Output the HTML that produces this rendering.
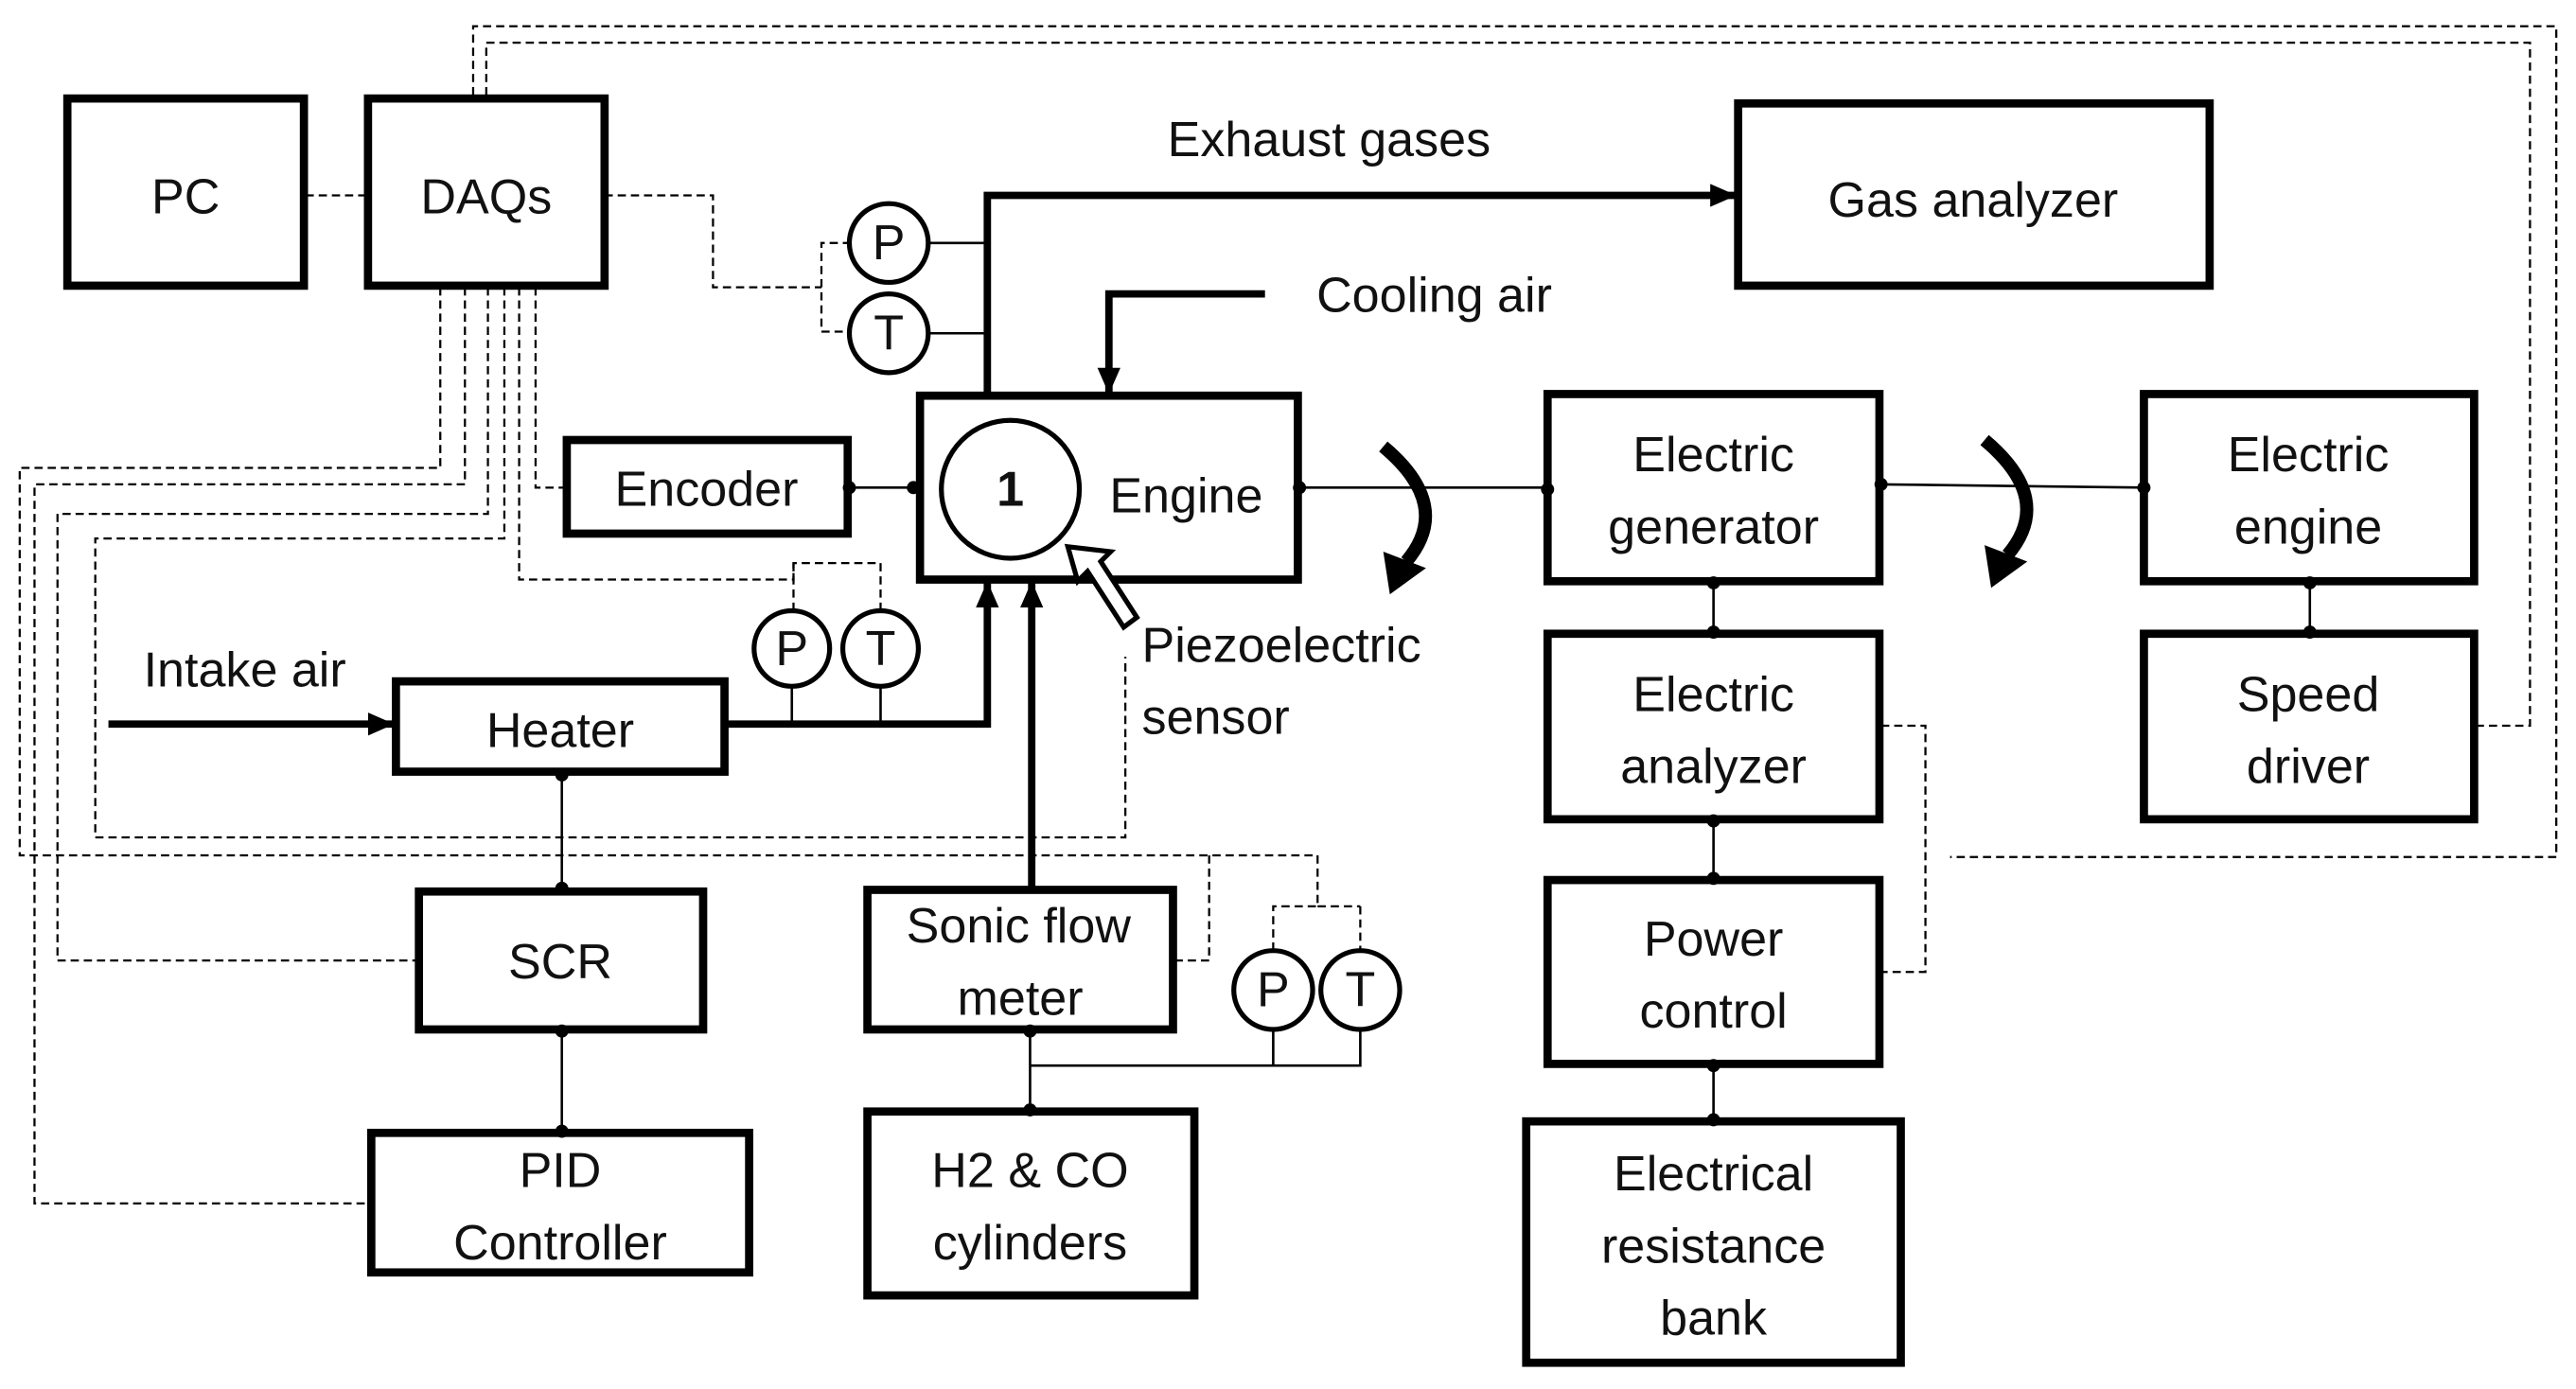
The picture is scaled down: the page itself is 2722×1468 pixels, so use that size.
<!DOCTYPE html>
<html><head><meta charset="utf-8"><style>
html,body{margin:0;padding:0;background:#fff;}
svg{display:block;}
text{font-family:"Liberation Sans",sans-serif;font-size:30px;fill:#111;text-anchor:middle;}
</style></head><body>
<svg width="2722" height="1468" viewBox="0 0 1568 846" preserveAspectRatio="none" xmlns="http://www.w3.org/2000/svg">
<defs>
<marker id="ah" markerWidth="16" markerHeight="14" refX="15" refY="7" orient="auto" markerUnits="userSpaceOnUse" viewBox="0 0 16 14"><path d="M0,0 L16,7 L0,14 z" fill="#000"/></marker>
</defs>
<g fill="none" stroke="#000" stroke-width="1.3" stroke-dasharray="5,3">
<polyline points="288,58 288,16 1556,16 1556,522 1187,522"/>
<polyline points="296,58 296,26 1540,26 1540,442 1508,442"/>
<line x1="186" y1="119" x2="222" y2="119"/>
<polyline points="368,119 434,119 434,175 500,175"/>
<polyline points="518,148 500,148 500,202 518,202"/>
<polyline points="268,175 268,285 12,285 12,521 802,521 802,552 775,552 775,580"/>
<line x1="802" y1="552" x2="828" y2="552"/><line x1="828" y1="552" x2="828" y2="580"/>
<polyline points="736,521 736,585 715,585"/>
<polyline points="283,175 283,295 21,295 21,733 232,733"/>
<polyline points="297,175 297,313 35,313 35,585 254,585"/>
<polyline points="307,175 307,328 58,328 58,510 685,510 685,400"/>
<polyline points="316,175 316,353 483,353 483,343 536,343 536,372"/>
<line x1="483" y1="343" x2="483" y2="372"/>
<polyline points="326,175 326,297 344,297"/>
<polyline points="1145,442 1172,442 1172,592 1145,592"/>
</g>
<g fill="#fff" stroke="#000" stroke-width="5">
<rect x="41" y="60" width="144" height="114"/>
<rect x="224" y="60" width="144" height="114"/>
<rect x="1058" y="63" width="287" height="111"/>
<rect x="560" y="241" width="230" height="112"/>
<rect x="345" y="268" width="171" height="57"/>
<rect x="241" y="415" width="200" height="55"/>
<rect x="528" y="542" width="186" height="85"/>
<rect x="255" y="543" width="173" height="84"/>
<rect x="226" y="690" width="230" height="85"/>
<rect x="528" y="677" width="199" height="112"/>
<rect x="942" y="240" width="202" height="114"/>
<rect x="1305" y="240" width="201" height="114"/>
<rect x="942" y="386" width="202" height="113"/>
<rect x="1305" y="386" width="201" height="113"/>
<rect x="942" y="536" width="202" height="112"/>
<rect x="929" y="683" width="228" height="147"/>
</g>
<g fill="none" stroke="#000" stroke-width="4.5">
<polyline points="601,240 601,119 1056,119" marker-end="url(#ah)"/>
<polyline points="770,179 675,179 675,239" marker-end="url(#ah)"/>
<line x1="66" y1="441" x2="239" y2="441" marker-end="url(#ah)"/>
<polyline points="441,441 601,441 601,355" marker-end="url(#ah)"/>
<line x1="628" y1="540" x2="628" y2="355" marker-end="url(#ah)"/>
</g>
<g fill="none" stroke="#000" stroke-width="1.5">
<line x1="565" y1="148" x2="601" y2="148"/><line x1="565" y1="203" x2="601" y2="203"/>
<line x1="517" y1="297" x2="558" y2="297"/>
<line x1="791" y1="297" x2="941" y2="297"/>
<line x1="1145" y1="295" x2="1305" y2="297"/>
<line x1="482" y1="418" x2="482" y2="441"/><line x1="536" y1="418" x2="536" y2="441"/>
<line x1="342" y1="471" x2="342" y2="541"/>
<line x1="342" y1="628" x2="342" y2="689"/>
<line x1="627" y1="628" x2="627" y2="676"/>
<polyline points="627,649 828,649 828,627"/><line x1="775" y1="627" x2="775" y2="649"/>
<line x1="1043" y1="355" x2="1043" y2="385"/>
<line x1="1043" y1="500" x2="1043" y2="535"/>
<line x1="1043" y1="649" x2="1043" y2="682"/>
<line x1="1406" y1="355" x2="1406" y2="385"/>
</g>
<g fill="#000">
<circle cx="517" cy="297" r="4"/><circle cx="556" cy="297" r="4"/>
<circle cx="791" cy="297" r="4"/><circle cx="942" cy="298" r="4"/>
<circle cx="1145" cy="295" r="4"/><circle cx="1305" cy="297" r="4"/>
<circle cx="342" cy="472" r="4"/><circle cx="342" cy="541" r="4"/>
<circle cx="342" cy="628" r="4"/><circle cx="342" cy="689" r="4"/>
<circle cx="627" cy="628" r="4"/><circle cx="627" cy="676" r="4"/>
<circle cx="1043" cy="355" r="4"/><circle cx="1043" cy="385" r="4"/>
<circle cx="1043" cy="500" r="4"/><circle cx="1043" cy="535" r="4"/>
<circle cx="1043" cy="649" r="4"/><circle cx="1043" cy="682" r="4"/>
<circle cx="1406" cy="355" r="4"/><circle cx="1406" cy="385" r="4"/>
</g>
<g fill="#fff" stroke="#000" stroke-width="3">
<circle cx="541" cy="148" r="24"/><circle cx="541" cy="203" r="24"/>
<circle cx="482" cy="395" r="23"/><circle cx="536" cy="395" r="23"/>
<circle cx="775" cy="603" r="24"/><circle cx="828" cy="603" r="24"/>
<circle cx="615" cy="298" r="42"/>
</g>
<path d="M650,333 L676,336 L670,342 L692,376 L684,382 L662,348 L656,354 Z" fill="#fff" stroke="#000" stroke-width="3"/>
<path d="M842,272 Q885,308 856,342" fill="none" stroke="#000" stroke-width="8"/>
<path d="M842,336 L868,346 L846,362 Z" fill="#000"/>
<path d="M1208,268 Q1251,304 1222,338" fill="none" stroke="#000" stroke-width="8"/>
<path d="M1208,332 L1234,342 L1212,358 Z" fill="#000"/>
<text x="113" y="130">PC</text>
<text x="296" y="130">DAQs</text>
<text x="809" y="95">Exhaust gases</text>
<text x="1201" y="132">Gas analyzer</text>
<text x="873" y="190">Cooling air</text>
<text x="541" y="158" font-size="27">P</text>
<text x="541" y="213" font-size="27">T</text>
<text x="430" y="308">Encoder</text>
<text x="615" y="308" font-weight="bold" font-size="27">1</text>
<text x="722" y="312">Engine</text>
<text x="482" y="405" font-size="27">P</text>
<text x="536" y="405" font-size="27">T</text>
<text x="149" y="418">Intake air</text>
<text x="341" y="455">Heater</text>
<text x="695" y="403" style="text-anchor:start">Piezoelectric</text>
<text x="695" y="447" style="text-anchor:start">sensor</text>
<text x="341" y="596">SCR</text>
<text x="620" y="574">Sonic flow</text>
<text x="621" y="618">meter</text>
<text x="775" y="613" font-size="27">P</text>
<text x="828" y="613" font-size="27">T</text>
<text x="341" y="723">PID</text>
<text x="341" y="767">Controller</text>
<text x="627" y="723">H2 &amp; CO</text>
<text x="627" y="767">cylinders</text>
<text x="1043" y="287">Electric</text>
<text x="1043" y="331">generator</text>
<text x="1405" y="287">Electric</text>
<text x="1405" y="331">engine</text>
<text x="1043" y="433">Electric</text>
<text x="1043" y="477">analyzer</text>
<text x="1405" y="433">Speed</text>
<text x="1405" y="477">driver</text>
<text x="1043" y="582">Power</text>
<text x="1043" y="626">control</text>
<text x="1043" y="725">Electrical</text>
<text x="1043" y="769">resistance</text>
<text x="1043" y="813">bank</text>
</svg>
</body></html>
